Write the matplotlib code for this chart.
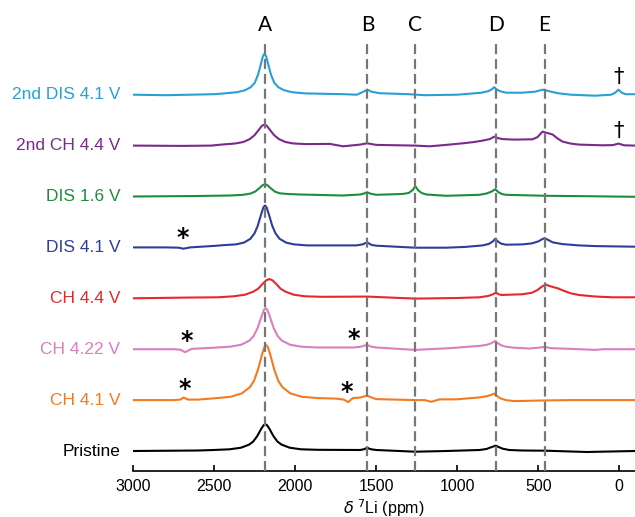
import matplotlib
matplotlib.use('Agg')
import matplotlib.pyplot as plt

# spectra, bottom to top; intensities in arbitrary units
names = ['Pristine', 'CH 4.1 V', 'CH 4.22 V', 'CH 4.4 V', 'DIS 4.1 V',
         'DIS 1.6 V', '2nd CH 4.4 V', '2nd DIS 4.1 V']
colors = ['#000000', '#f47a20', '#d97fc0', '#e8262d', '#2e3d99',
          '#1e8c3e', '#7a2a8c', '#2a9fd6']

ppm_pristine = [3000, 2600, 2505, 2405, 2335, 2285, 2260, 2235, 2210, 2195, 2185, 2175, 2160, 2135,
                2110, 2085, 2035, 1965, 1865, 1600, 1575, 1557, 1535, 1500, 1259, 1069, 864, 820,
                790, 770, 761, 745, 720, 679, 600, 453, 200, 145, -97]
int_pristine = [0, 0.5, 1, 1.7, 3.3, 6.4, 9.4, 14.9, 22.3, 25.9, 26.7, 25.9, 22.3, 14.9,
                9.4, 6.4, 3.3, 1.7, 1.2, 1, 1.8, 3.3, 1.8, 1, -0.7, 0, 1, 2,
                3.8, 5, 5.3, 4, 2.3, 1, 0.5, 0.3, -1, -0.8, 0]

ppm_ch41 = [3000, 2750, 2710, 2690, 2660, 2600, 2500, 2400, 2330, 2280, 2255, 2230, 2205, 2190,
            2180, 2170, 2155, 2130, 2105, 2080, 2030, 1960, 1860, 1750, 1700, 1674, 1645, 1600,
            1557, 1520, 1500, 1259, 1200, 1161, 1110, 1000, 864, 820, 790, 775, 755, 730, 700,
            650, 450, 300, -97]
int_ch41 = [0, 0, 0.5, 2.5, 0.5, 0.5, 1.8, 3.3, 6.7, 13, 19.3, 30.6, 45.8, 53.3,
            55, 53.3, 45.8, 30.6, 19.3, 13, 6.7, 3.3, 2, 1.5, 0.5, -2, 2, 2.5,
            4.5, 2, 1, 0, 0, -1.7, 0.7, 0.8, 2.7, 3.8, 5.2, 6.5, 4, 1.5, 0,
            -1, -0.3, 0, 0]

ppm_ch422 = [3000, 2750, 2710, 2680, 2640, 2503, 2403, 2333, 2283, 2258, 2233, 2208, 2193, 2183,
             2173, 2158, 2133, 2108, 2083, 2033, 1963, 1863, 1640, 1600, 1557, 1530, 1500, 1259,
             1050, 864, 820, 790, 765, 750, 730, 700, 650, 556, 500, 460, 420, 300, 145, 100, -97]
int_ch422 = [0, 0, -0.5, -3, 0.3, 1.5, 2.5, 4.5, 8.6, 13, 21, 33, 39.5, 41,
             39.5, 33, 21, 13, 8.6, 4.5, 2.5, 1.7, 1.7, 2.3, 4.3, 2.5, 1.7, -0.7,
             1, 3.3, 4.3, 6, 8.3, 6, 4, 2.5, 1.5, 0.7, 1.5, 2.3, 1, 0.3, -0.7, 0, 0]

ppm_ch44 = [3000, 2680, 2480, 2380, 2310, 2260, 2230, 2200, 2180, 2160, 2140, 2120, 2090, 2060,
            2010, 1940, 1840, 1557, 1259, 1000, 864, 810, 780, 761, 745, 725, 700, 600, 540,
            505, 475, 453, 435, 410, 380, 350, 300, 248, 150, 43, -97]
int_ch44 = [0, 0.7, 1, 2, 3.6, 6.6, 9.5, 14.7, 17.9, 19.3, 17.9, 14.7, 9.5, 6.6,
            3.6, 2, 1.5, 1.7, -0.3, 0.3, 1, 2.3, 4, 5.7, 4, 3.3, 3.5, 4, 5.5,
            8.3, 12, 13.7, 12.5, 11.3, 10, 8, 5, 3.3, 1.8, 1, 1]

ppm_dis41 = [3000, 2800, 2720, 2690, 2650, 2500, 2447, 2367, 2317, 2277, 2252, 2232, 2212, 2197,
             2187, 2177, 2162, 2142, 2122, 2097, 2057, 2007, 1927, 1623, 1585, 1557, 1530, 1500,
             1259, 1069, 950, 843, 805, 780, 765, 750, 730, 700, 600, 540, 500, 475, 460, 440,
             410, 350, 250, 145, -97]
int_dis41 = [0, 0, -0.3, -1.3, 0, 1.5, 2.2, 3, 4.8, 8.6, 14, 21.5, 32.4, 40,
             42, 40, 32.4, 21.5, 14, 8.6, 4.8, 3, 2, 2, 3, 5, 2.5, 1.7,
             -0.3, -0.3, 0.5, 2, 3.5, 6, 8.7, 6, 3.8, 2.7, 3, 4, 6, 8.3, 9.3, 7.5,
             5, 3.3, 2, 1.3, 0.7]

ppm_dis16 = [3000, 2600, 2407, 2327, 2277, 2247, 2222, 2202, 2187, 2172, 2152, 2127, 2097, 2047,
             1967, 1705, 1600, 1575, 1557, 1535, 1500, 1340, 1300, 1275, 1259, 1243, 1220, 1190,
             1069, 864, 820, 790, 765, 748, 725, 700, 453, 200, -97]
int_dis16 = [0, 0.5, 1, 1.6, 2.9, 5, 8.3, 11.3, 12.3, 11.3, 8.3, 5, 3.2, 2.5,
             2, 1, 2, 3, 4.3, 2.8, 1.7, 2.5, 3.5, 6.5, 10.3, 6.5, 3.5, 2,
             0.7, 1.7, 3, 4.8, 7.3, 4.5, 2.5, 1.7, 0.7, 0.3, -0.3]

ppm_ch44b = [3000, 2700, 2520, 2450, 2371, 2321, 2281, 2251, 2226, 2206, 2191, 2176, 2156, 2131,
             2101, 2061, 2011, 1931, 1787, 1705, 1600, 1557, 1500, 1259, 1171, 1069, 966, 900,
             843, 800, 771, 750, 720, 650, 535, 505, 485, 473, 455, 430, 411, 380, 350, 300,
             248, 104, 40, 5, -30, -97]
int_ch44b = [0, -0.3, 0, 1.1, 2.1, 3.6, 6.5, 10.5, 15.6, 19.8, 21, 19.8, 15.6, 10.5,
             6.5, 3.6, 2.1, 1.5, 1.7, -0.7, 1, 2.3, 0.7, 0, -0.7, 0.7, 2.3, 3.5,
             5, 6.5, 9, 7.5, 6.5, 6, 6.3, 8.5, 12, 14, 13, 12, 11, 7, 4, 2,
             1, 0.3, 0.5, 2, 0.3, 0]

ppm_dis41b = [3000, 2800, 2500, 2440, 2360, 2310, 2275, 2250, 2230, 2215, 2200, 2190, 2180, 2165,
              2150, 2130, 2105, 2070, 2020, 1940, 1700, 1620, 1580, 1555, 1530, 1480, 1300, 1200,
              1000, 850, 810, 790, 772, 755, 735, 700, 600, 520, 490, 472, 450, 420, 380, 300,
              150, 50, 25, 5, -15, -40, -97]
int_dis41b = [0, -0.5, 0.5, 1.3, 2.5, 4.5, 7.5, 12, 20, 29, 38.5, 41, 38.5, 29,
              20, 12, 7.5, 4.5, 2.5, 1.3, 0.5, 0, 3, 5, 3, 1.5, 0.5, -0.5,
              0, 2, 3.5, 5, 7.5, 5, 3.5, 2, 2, 3, 4.3, 5, 4.2, 3, 1.5, 0,
              -1, 0, 2, 5, 2, 0.5, 0.5]

ppms = [ppm_pristine, ppm_ch41, ppm_ch422, ppm_ch44, ppm_dis41, ppm_dis16, ppm_ch44b, ppm_dis41b]
ints = [int_pristine, int_ch41, int_ch422, int_ch44, int_dis41, int_dis16, int_ch44b, int_dis41b]

peak_letters = ['A', 'B', 'C', 'D', 'E']
peak_ppm = [2187, 1555, 1259, 761, 461]

# (spectrum index, ppm, height above baseline, symbol)
stars = [(1, 2680, 11), (1, 1684, 8), (2, 2673, 8), (2, 1642, 10), (4, 2692, 9)]
daggers = [(6, 5, 15), (7, 5, 18)]

base0 = 19.7
step = 50.9

fig = plt.figure(figsize=(6.35, 5.17), dpi=100)
ax = fig.add_axes([133.3 / 635, 46.3 / 517, 501.7 / 635, 470.7 / 517])

for i in range(len(names)):
    off = base0 + i * step
    ax.plot(ppms[i], [v + off for v in ints[i]], color=colors[i], lw=1.5, zorder=2)
    ax.text(-0.026, off, names[i], color=colors[i], transform=ax.get_yaxis_transform(),
            ha='right', va='center', fontsize=12.5, family='Liberation Sans')

for lab, p in zip(peak_letters, peak_ppm):
    ax.plot([p, p], [0, 428.7], color='#777777', lw=1.6, ls=(0, (4.5, 2.2)), zorder=3)
    ax.text(p, 445.7, lab, ha='center', va='center', fontsize=15, family='Lato')

for i, p, h in stars:
    ax.text(p, base0 + i * step + h, '*', ha='center', va='center', fontsize=17,
            fontweight='bold', family='DejaVu Sans')
for i, p, h in daggers:
    ax.text(p, base0 + i * step + h, '†', ha='center', va='center', fontsize=15,
            family='DejaVu Sans')

ax.set_xlim(3000, -97)
ax.set_ylim(0, 470.7)
ax.set_xticks([3000, 2500, 2000, 1500, 1000, 500, 0])
ax.tick_params(axis='x', direction='in', length=4, width=1.2, labelsize=11.5, pad=6)
for lbl in ax.get_xticklabels():
    lbl.set_family('Liberation Sans')
ax.set_yticks([])
for s in ['top', 'right', 'left']:
    ax.spines[s].set_visible(False)
ax.spines['bottom'].set_linewidth(1.2)
ax.set_xlabel(r'$\delta$ $^{7}$Li (ppm)', fontsize=11.5, family='Liberation Sans', labelpad=2)

fig.savefig('out.png', dpi=100)
